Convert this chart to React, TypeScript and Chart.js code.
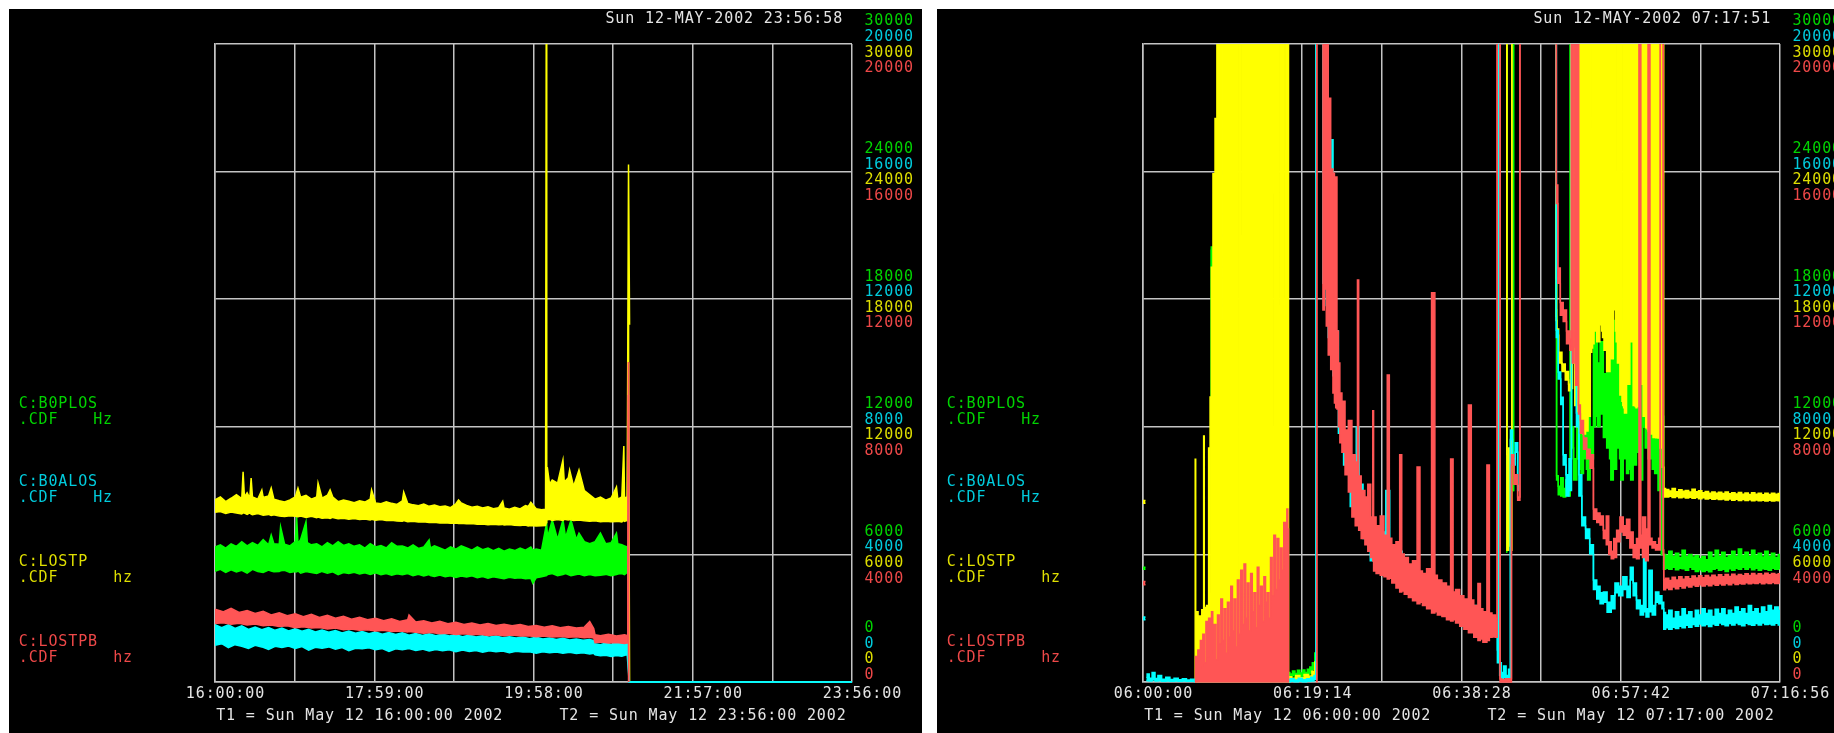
import { useEffect, useRef } from "react";
import { Chart, registerables } from "chart.js";

Chart.register(...registerables);

type Row = [number, number | null, number | null];

// ---------- axis / tick data ----------
const leftTickLabels = ["16:00:00", "17:59:00", "19:58:00", "21:57:00", "23:56:00"];
const leftTickValues = [0, 119, 238, 357, 476];
const leftGridValues = [0, 59.5, 119, 178.5, 238, 297.5, 357, 416.5, 476];
const rightTickLabels = ["06:00:00", "06:19:14", "06:38:28", "06:57:42", "07:16:56"];
const rightTickValues = [0, 19.2333, 38.4667, 57.7, 76.9333];
const rightGridValues = [0, 9.6167, 19.2333, 28.85, 38.4667, 48.0833, 57.7, 67.3167, 76.9333];

const greenAxis = [0, 6000, 12000, 18000, 24000, 30000];
const cyanAxis = [0, 4000, 8000, 12000, 16000, 20000];
const yellowAxis = [0, 6000, 12000, 18000, 24000, 30000];
const redAxis = [0, 4000, 8000, 12000, 16000, 20000];

const legendNames = ["C:B0PLOS", "C:B0ALOS", "C:LOSTP", "C:LOSTPB"];
const legendUnits = ["Hz", "Hz", "hz", "hz"];

// ---------- left panel series: [minutes since 16:00, upper, lower] ----------
const leftYellow: Row[] = [
  [0,8560,7980],[4,8700,8020],[8,8480,7930],[12,8640,7990],[16,8810,7950],[20,8620,7900],[21,9880,7960],[22,8700,7940],
  [24,8900,7880],[26,8650,7950],[27,9590,7900],[28,8700,7870],[32,8600,7920],[35,9030,7860],[36,8680,7840],[40,8750,7880],
  [42,9120,7830],[44,8600,7860],[48,8520,7800],[52,8470,7780],[56,8560,7820],[60,8700,7790],[62,9120,7770],[64,8690,7800],
  [68,8780,7740],[72,8600,7790],[76,8700,7730],[77,9360,7760],[80,8650,7700],[84,8780,7720],[86,9030,7690],[88,8700,7740],
  [92,8480,7680],[96,8560,7700],[100,8500,7650],[104,8430,7690],[108,8520,7640],[112,8460,7660],[116,8600,7620],[117,9030,7650],
  [120,8420,7610],[124,8380,7640],[128,8470,7590],[132,8400,7600],[136,8350,7570],[140,8520,7560],[141,8930,7590],[144,8400,7540],
  [148,8330,7560],[152,8290,7520],[156,8370,7540],[160,8260,7500],[164,8320,7510],[168,8240,7480],[172,8280,7490],[176,8200,7460],
  [180,8380,7480],[182,8560,7450],[184,8420,7470],[188,8300,7440],[192,8220,7450],[196,8260,7420],[200,8180,7430],[204,8240,7400],
  [208,8150,7420],[212,8200,7390],[215,8500,7410],[216,8180,7380],[220,8120,7400],[224,8220,7370],[228,8140,7360],[232,8300,7380],
  [234,8250,7340],[236,8450,7360],[240,8150,7330],[244,8100,7350],[247,8120,7360],[247.6,35000,7500],[247.9,9400,7650],[248.3,10110,7620],
  [250,9300,7650],[252,9500,7600],[256,9350,7640],[260,10440,7600],[261,9400,7650],[264,9600,7620],[265,9970,7640],[268,9200,7600],
  [272,9970,7620],[276,9000,7580],[280,8800,7560],[284,8600,7580],[288,8700,7540],[292,8550,7560],[296,8650,7540],[300,9170,7550],
  [301,8600,7560],[304,8700,7530],[305.5,11100,7600],[306,8650,7550],[308,8700,7600],[309,24330,15000],[309.8,16800,0],[310,null,null],
];
const leftGreen: Row[] = [
  [0,6350,5200],[4,6450,5300],[8,6300,5150],[12,6500,5280],[16,6380,5180],[20,6600,5250],[24,6400,5120],[28,6550,5300],
  [32,6420,5200],[36,6700,5150],[40,6450,5260],[42,6910,5220],[44,6500,5180],[48,6480,5200],[49,7300,5230],[52,6480,5250],
  [56,6400,5150],[60,6600,5200],[61,7770,5180],[62,6500,5220],[64,6700,5120],[68,7540,5200],[69,6550,5180],[72,6450,5150],
  [76,6500,5100],[80,6350,5200],[84,6550,5120],[88,6400,5180],[92,6600,5050],[96,6420,5150],[100,6500,5100],[104,6380,5160],
  [108,6450,5080],[112,6300,5140],[116,6500,5060],[120,6350,5130],[124,6420,5050],[128,6300,5100],[132,6550,5020],[136,6380,5090],
  [140,6400,5040],[144,6300,5100],[148,6450,5000],[152,6280,5060],[156,6350,4980],[160,6680,5050],[161,6300,5000],[164,6400,4960],
  [168,6300,5030],[172,6200,4950],[176,6350,5000],[180,6250,4920],[184,6400,4980],[188,6300,4940],[192,6200,4990],[196,6350,4900],
  [200,6220,4960],[204,6300,4880],[208,6180,4950],[212,6280,4900],[216,6150,4860],[220,6250,4920],[224,6180,4880],[228,6300,4900],
  [232,6200,4850],[236,6350,4880],[237.5,6200,4640],[240,6250,4900],[244,6200,4950],[247.8,7480,5000],[248.5,6800,5050],[252,7620,5100],
  [256,6700,5000],[260,7620,5050],[262,6800,5100],[266,7620,5000],[270,6700,5050],[272,7000,5080],[276,6600,5000],[280,6500,5050],
  [284,6600,5000],[288,7000,5020],[292,6500,5060],[296,6550,5000],[300,7000,5050],[301,6500,5080],[304,6450,5100],[306,6400,5050],
  [308,6350,5150],[309,6300,5200],[309.5,0,0],[309.6,null,null],
];
const leftRed: Row[] = [
  [0,2280,1830],[6,2200,1860],[12,2310,1810],[18,2180,1840],[24,2240,1790],[30,2150,1820],[36,2220,1760],[42,2100,1790],
  [48,2170,1740],[54,2080,1760],[60,2140,1700],[66,2050,1730],[72,2120,1690],[78,2020,1710],[84,2090,1660],[90,2000,1690],
  [96,2060,1640],[102,1970,1660],[108,2030,1620],[114,1950,1640],[120,2000,1600],[126,1920,1620],[132,1980,1580],[138,1900,1600],
  [144,1950,1570],[145,2100,1580],[150,1880,1560],[156,1920,1530],[162,1850,1550],[168,1900,1510],[174,1830,1530],[180,1870,1490],
  [186,1800,1510],[192,1850,1480],[198,1790,1500],[204,1830,1460],[210,1770,1480],[216,1810,1450],[222,1760,1470],[228,1800,1440],
  [234,1740,1450],[240,1770,1420],[246,1720,1440],[252,1760,1410],[258,1700,1430],[264,1740,1400],[270,1690,1420],[276,1720,1390],
  [280,1900,1400],[283,1680,1380],[284,1480,1230],[288,1450,1250],[294,1500,1220],[300,1440,1240],[306,1480,1210],[308.5,1450,1230],
  [308.8,10030,9000],[309.1,0,0],[309.2,null,null],
];
const leftCyan: Row[] = [
  [0,1800,1150],[5,1700,1200],[10,1790,1080],[15,1680,1170],[20,1760,1120],[25,1650,1050],[30,1720,1150],[35,1640,1100],
  [40,1710,1020],[45,1620,1120],[50,1690,1080],[55,1600,1130],[60,1670,1050],[65,1590,1110],[70,1650,1000],[75,1570,1090],
  [80,1630,1060],[85,1560,1100],[90,1610,1030],[95,1540,1080],[100,1600,980],[105,1530,1060],[110,1580,1040],[115,1510,1070],
  [120,1570,1010],[125,1500,1050],[130,1550,960],[135,1490,1040],[140,1540,1010],[145,1470,1050],[150,1520,990],[155,1460,1030],
  [160,1510,970],[165,1450,1020],[170,1500,980],[175,1440,1010],[180,1480,950],[185,1420,1000],[190,1470,960],[195,1410,990],
  [200,1450,930],[205,1400,980],[210,1440,950],[215,1390,970],[220,1420,920],[225,1380,960],[230,1410,940],[235,1360,950],
  [240,1400,900],[245,1350,950],[250,1380,920],[255,1330,940],[260,1370,900],[265,1320,930],[270,1350,890],[275,1310,920],
  [280,1330,880],[283,1300,900],[284,1200,850],[288,1170,820],[292,1220,840],[296,1180,800],[300,1230,830],[304,1190,810],
  [308,1240,860],[309.5,0,0],[476,0,0],
];

// ---------- right panel series: [minutes since 06:00, upper, lower] ----------
const rightYellow: Row[] = [
  [0,8530,8400],[0.3,8530,8400],[0.35,null,null],
  [6.28,0,0],[6.33,10480,0],[6.4,3300,0],[6.9,3100,0],[7.3,3400,0],[7.35,11570,0],[7.45,3500,0],[7.9,3600,0],[7.95,11000,0],
  [8.05,4200,0],[8.15,13400,0],[8.35,19500,0],[8.55,23900,0],[8.85,26500,0],
  [9.0,35000,0],[9.38,35000,0],[9.5,17000,0],[9.62,35000,0],[10.1,35000,0],[10.2,22000,0],[10.3,35000,0],
  [10.4,35000,0],[10.5,26000,0],[10.6,35000,0],[10.88,35000,0],[11.0,10100,0],[11.12,35000,0],
  [11.53,35000,0],[11.65,4230,0],[11.77,35000,0],[11.9,35000,0],[12.0,21000,0],[12.1,35000,0],
  [12.38,35000,0],[12.5,14000,0],[12.62,35000,0],[13.18,35000,0],[13.3,15500,0],[13.42,35000,0],
  [13.5,35000,0],[13.6,24000,0],[13.7,35000,0],[13.88,35000,0],[14.0,19500,0],[14.12,35000,0],
  [14.48,35000,0],[14.6,14800,0],[14.72,35000,0],[15.08,35000,0],[15.2,20000,0],[15.32,35000,0],
  [15.5,35000,0],[15.6,23000,0],[15.7,35000,0],[15.75,35000,0],[15.85,12000,0],[15.95,35000,0],
  [16.08,35000,0],[16.2,16300,0],[16.32,35000,0],[16.48,35000,0],[16.6,17700,0],[16.72,35000,0],
  [16.9,35000,0],[17.0,18000,0],[17.1,35000,0],[17.2,35000,0],[17.3,25000,0],[17.4,35000,0],
  [17.55,35000,0],[17.6,200,0],
  [17.7,250,100],[18.2,180,60],[18.7,300,120],[19.2,200,80],[19.7,350,150],[20.2,280,120],[20.6,500,250],[20.9,940,600],[20.95,null,null],
  [43.9,35000,35000],[44.0,10700,6200],[44.3,11000,6400],[44.5,10500,6200],[44.6,35000,35000],[44.65,null,null],
  [49.84,35000,35000],[49.95,19000,17000],[50.0,16600,16300],[50.4,15500,15000],[50.8,14950,14600],[51.2,14600,14200],[51.6,14000,13700],
  [51.75,35000,13800],[52.0,35000,15000],[52.3,35000,13000],[52.6,35000,12000],[52.8,35000,11800],[52.9,22000,11700],[53.0,35000,11700],
  [53.3,35000,11660],[53.6,35000,11800],[53.9,35000,12500],[54.15,35000,15500],[54.25,26000,15700],[54.35,35000,15900],[54.6,35000,16500],
  [55.0,35000,16000],[55.35,35000,16800],[55.45,19000,16500],[55.55,35000,16200],[55.8,35000,15600],[56.2,35000,14600],[56.6,35000,15200],
  [57.0,35000,17500],[57.1,24000,16500],[57.2,35000,16000],[57.4,35000,15000],[57.8,35000,13500],[57.9,35000,13200],[58.0,17000,13000],
  [58.1,35000,12900],[58.2,35000,12650],[58.6,35000,14000],[59.0,35000,16000],[59.4,35000,13000],[59.5,35000,12950],[59.6,21000,12900],
  [59.7,35000,12950],[59.8,35000,12950],[60.2,35000,14000],[60.6,35000,12500],[60.85,35000,11950],[60.95,25000,11900],[61.05,35000,11800],
  [61.4,35000,11660],[61.8,35000,11500],[62.05,35000,11490],[62.15,18000,11480],[62.25,35000,11470],[62.6,35000,11000],[62.85,35000,10100],
  [62.93,9100,8700],
  [63.3,9050,8700],[63.7,8980,8740],[64.1,9100,8680],[64.5,8950,8720],[64.9,9040,8660],[65.3,8970,8700],[65.7,9000,8650],[66.1,8930,8690],
  [66.5,9060,8640],[66.9,8950,8680],[67.3,8990,8620],[67.7,8900,8660],[68.1,8960,8600],[68.5,8880,8640],[68.9,8940,8590],[69.3,8870,8620],
  [69.7,8920,8580],[70.1,8860,8610],[70.5,8930,8560],[70.9,8850,8600],[71.3,8900,8550],[71.7,8840,8590],[72.1,8910,8540],[72.5,8830,8580],
  [72.9,8890,8530],[73.3,8820,8570],[73.7,8900,8520],[74.1,8830,8560],[74.5,8880,8520],[74.9,8810,8550],[75.3,8870,8510],[75.7,8820,8550],
  [76.1,8880,8510],[76.5,8830,8540],[76.93,8860,8520],
];
const rightGreen: Row[] = [
  [0,5400,5300],[0.3,5400,5300],[0.35,null,null],
  [8.2,6800,6700],[8.3,20450,20300],[8.38,7000,6900],[8.45,null,null],
  [11.6,15560,15400],[11.7,4230,4100],[11.75,null,null],
  [15.2,35000,35000],[15.3,17500,17300],[15.35,null,null],
  [17.6,450,300],[17.9,380,250],[18.2,520,300],[18.5,400,220],[18.8,550,330],[19.1,420,260],[19.4,560,300],[19.7,450,280],
  [20.0,600,350],[20.3,700,420],[20.6,900,600],[20.9,1360,1000],[20.95,null,null],
  [43.9,35000,35000],[44.0,6200,6100],[44.05,null,null],
  [44.7,9000,9000],[44.8,35000,35000],[44.85,null,null],
  [49.8,35000,35000],[49.9,17500,17200],[50.0,9700,9500],[50.3,9200,8800],[50.6,9600,8750],[50.9,9100,8700],[51.2,9500,8900],
  [51.5,9000,8750],[51.7,35000,35000],[51.8,12000,11000],[52.2,10500,9500],[52.6,13000,10500],[52.7,13000,12800],[52.8,13500,10000],
  [53.0,15000,9800],[53.4,16000,10500],[53.5,16000,15500],[53.6,15500,10000],[53.8,14000,9500],[54.2,12000,10500],[54.6,16500,12000],
  [54.7,16500,16000],[54.8,16000,12500],[55.0,15000,12000],[55.4,16000,12600],[55.8,14500,11500],[56.2,17000,11000],[56.3,17000,16500],
  [56.4,17500,10500],[56.6,18850,9500],[57.0,17000,10000],[57.4,18000,11000],[57.5,18000,17500],[57.6,17500,10500],[57.8,16000,9500],
  [58.2,18500,10500],[58.6,17500,9800],[58.7,17500,17000],[58.8,17000,10000],[59.0,18000,9500],[59.4,16500,10200],[59.8,18800,10800],
  [59.9,18800,18000],[60.0,18000,10500],[60.2,17000,9500],[60.5,35000,12000],[60.8,16000,11000],[61.2,15000,10500],[61.3,15000,14500],
  [61.4,14500,10500],[61.6,14000,10000],[62.0,13500,9800],[62.4,13000,9000],[62.8,12500,6000],[62.93,6000,5300],
  [63.3,5950,5350],[63.7,6150,5300],[64.1,5900,5400],[64.5,6050,5280],[64.9,5850,5350],[65.3,6200,5320],[65.7,5900,5250],[66.1,6000,5400],
  [66.5,5880,5300],[66.9,5950,5200],[67.3,5800,5280],[67.7,5900,5200],[68.1,5750,5250],[68.5,6100,5180],[68.9,5850,5300],[69.3,6200,5350],
  [69.7,5900,5260],[70.1,6100,5300],[70.5,5850,5200],[70.9,5950,5320],[71.3,6150,5250],[71.7,5900,5350],[72.1,6250,5300],[72.5,5950,5400],
  [72.9,6100,5300],[73.3,5900,5380],[73.7,6200,5280],[74.1,5950,5350],[74.5,6050,5250],[74.9,5880,5330],[75.3,6150,5300],[75.7,5900,5250],
  [76.1,6050,5350],[76.5,5850,5300],[76.93,6000,5320],
];
const rightCyan: Row[] = [
  [0,2040,1950],[0.3,2040,1950],[0.35,null,null],[0.4,150,50],[0.6,250,40],[0.9,120,30],[1.3,300,60],[1.6,110,30],[2.0,200,40],[2.5,90,20],
  [3.0,150,30],[3.5,80,20],[4.0,120,30],[4.5,70,20],[5.0,100,30],[5.5,60,20],[6.0,90,20],[6.5,60,10],[10,70,10],[14,60,10],
  [17.6,80,10],[18.0,100,20],[18.5,60,10],[19.0,120,20],[19.5,70,10],[20.0,100,20],[20.5,150,30],[20.8,200,80],
  [21.0,30000,30000],[21.7,30000,30000],[21.76,30000,12500],[22.03,30000,13000],[22.24,30000,11800],[22.5,17000,10800],[22.84,15000,10300],
  [22.9,17000,10300],[23.0,13000,9600],[23.35,11000,9000],[23.85,8700,7800],[24.6,7600,6800],[25.46,6700,5500],[26.05,8000,5100],
  [26.15,6200,5000],[27.0,5500,4500],[27.9,4900,3800],[28.9,4700,3600],[29.75,6000,3450],[29.85,4300,3450],[30.8,4100,3150],
  [31.8,3650,2950],[32.8,3500,2750],[33.5,3300,2650],[34.5,3300,2500],[35.3,3150,2350],[36.4,2900,2200],[37.5,2650,2100],
  [38.5,2500,1900],[39.7,2400,1700],[40.8,2150,1500],[41.9,2000,1500],[42.75,1900,1500],[42.85,1000,600],[43.0,30000,30000],
  [43.15,600,200],[43.4,300,100],[43.7,500,150],[44.0,200,50],[44.3,400,100],[44.45,7900,7600],[44.8,7000,6800],[45.1,7500,7200],
  [45.4,6150,6000],[45.45,null,null],
  [49.84,30000,30000],[50.0,11030,10800],[50.3,9720,9500],[50.6,8930,8700],[50.9,7120,6800],[51.3,6500,5830],[51.6,7000,6000],
  [51.9,30000,30000],[52.2,30000,30000],[52.5,8430,8000],[52.8,6500,5830],[53.2,5170,4900],[53.7,4800,4500],[54.2,4300,4010],
  [54.6,3200,2900],[55.0,3000,2600],[55.4,2800,2450],[55.8,2820,2500],[56.3,2500,2190],[56.8,2700,2300],[57.2,3100,2800],
  [57.7,3000,2700],[58.2,3300,2900],[58.7,3000,2650],[59.0,3600,3200],[59.4,3100,2700],[59.8,2570,2300],[60.3,2400,2100],
  [60.6,4000,2200],[60.9,2300,2040],[61.3,3500,2200],[61.7,2400,2100],[62.1,2820,2500],[62.5,2700,2450],[62.85,2500,2300],
  [62.93,2176,1655],[63.3,2100,1700],[63.7,2250,1650],[64.1,2000,1720],[64.5,2200,1680],[64.9,2050,1750],[65.3,2300,1700],
  [65.7,2100,1780],[66.1,2200,1720],[66.5,2000,1800],[66.9,2250,1750],[67.3,2100,1820],[67.7,2300,1760],[68.1,2150,1800],
  [68.5,2250,1740],[68.9,2050,1820],[69.3,2280,1780],[69.7,2150,1850],[70.1,2300,1800],[70.5,2100,1760],[70.9,2250,1830],
  [71.3,2150,1790],[71.7,2350,1850],[72.1,2200,1800],[72.5,2300,1760],[72.9,2150,1840],[73.3,2400,1800],[73.7,2200,1780],
  [74.1,2300,1830],[74.5,2150,1790],[74.9,2350,1850],[75.3,2200,1800],[75.7,2400,1820],[76.1,2250,1790],[76.5,2350,1840],
  [76.93,2241,1787],
];
const rightRed: Row[] = [
  [0,3150,3050],[0.3,3150,3050],[0.35,null,null],
  [6.28,0,0],[6.4,800,0],[6.55,300,0],[6.7,1000,0],[6.85,400,0],[7.0,1300,0],[7.15,500,0],[7.3,1500,0],[7.5,600,0],[7.7,1900,0],
  [7.85,800,0],[8.0,2000,0],[8.2,900,0],[8.35,2200,0],[8.5,1000,0],[8.7,1800,0],[8.9,700,0],[9.1,2100,0],[9.3,1200,0],[9.5,2600,0],
  [9.7,1300,0],[9.9,2300,0],[10.1,900,0],[10.3,2500,0],[10.5,1400,0],[10.7,3000,0],[10.9,1600,0],[11.1,2600,0],[11.3,1100,0],
  [11.5,3200,0],[11.7,1500,0],[11.9,3500,0],[12.1,1800,0],[12.3,3700,0],[12.5,2000,0],[12.7,3100,0],[12.9,1600,0],[13.1,3400,0],
  [13.3,2200,0],[13.5,2800,0],[13.7,1700,0],[13.9,3600,0],[14.1,2400,0],[14.3,3000,0],[14.5,1900,0],[14.7,3300,0],[14.9,2500,0],
  [15.1,2800,0],[15.3,2000,0],[15.5,3900,0],[15.7,2700,0],[15.9,4600,0],[16.1,2900,0],[16.3,4500,0],[16.5,3200,0],[16.7,4200,0],
  [16.9,3500,0],[17.1,5000,0],[17.3,4000,0],[17.45,5420,0],[17.55,4800,0],[17.6,0,0],[17.65,null,null],
  [20.95,0,0],[21.03,30000,30000],[21.7,30000,30000],[21.76,30000,11660],[22.03,30000,12320],[22.24,30000,11160],[22.5,18300,10250],
  [22.84,16080,9800],[23.04,15950,9060],[23.2,11290,8750],[23.35,15830,8600],[23.5,11000,8560],[23.7,10000,8000],[23.85,9060,7500],
  [24.2,8800,7200],[24.6,7900,6500],[25.0,8200,5960],[25.46,7120,5170],[25.8,6900,4900],[26.0,12600,5000],[26.1,6460,4760],
  [26.6,6000,4500],[27.0,5800,4300],[27.3,6200,4100],[27.7,5170,3900],[27.8,8500,3800],[27.9,5170,3480],[28.4,4900,3400],
  [28.9,5200,3350],[29.3,4600,3300],[29.7,9620,3230],[29.8,4510,3250],[30.3,4300,3100],[30.8,4400,2950],[31.2,7120,2820],
  [31.3,4010,2850],[31.8,3900,2750],[32.3,3700,2650],[32.8,3800,2550],[33.4,6740,2450],[33.5,3480,2500],[34.0,3400,2400],
  [34.5,3550,2300],[35.2,12200,2160],[35.3,3350,2200],[35.8,3200,2100],[36.4,3100,2050],[36.9,3000,1950],[37.4,6990,1910],
  [37.5,2820,1950],[38.0,2900,1850],[38.5,2700,1750],[39.0,2600,1650],[39.6,8680,1540],[39.7,2570,1540],[40.2,2400,1400],
  [40.7,3085,1300],[40.8,2300,1350],[41.3,2200,1250],[41.77,6800,1300],[41.9,2160,1400],[42.4,2100,1410],[42.75,2000,1400],
  [42.8,30000,30000],[43.1,30000,30000],[43.15,100,0],[43.5,80,0],[44.0,100,0],[44.4,100,0],[44.6,7120,6800],[45.0,6500,6200],
  [45.5,5800,5700],[45.55,30000,30000],[45.7,30000,30000],[45.75,null,null],
  [49.84,30000,30000],[50.0,15580,15000],[50.2,12980,12500],[50.6,11900,11500],[50.9,11660,11300],[51.4,11000,10600],[51.7,10750,10400],
  [51.8,30000,30000],[51.9,10500,10000],[52.2,30000,30000],[52.3,9800,9300],[52.55,30000,30000],[52.65,8680,8400],[53.0,8200,7800],
  [53.4,7650,7300],[53.8,7300,7000],[54.2,7120,6700],[54.6,5420,5100],[55.0,5300,5000],[55.4,5200,4920],[55.8,4760,4500],
  [56.1,5200,4300],[56.4,4400,4000],[56.7,4100,3860],[57.0,4500,3900],[57.4,4760,4400],[57.8,5170,4700],[58.2,4900,4600],
  [58.6,5100,4510],[59.0,4700,4200],[59.4,4300,3900],[59.8,4500,3860],[60.05,30000,30000],[60.15,4600,4200],[60.5,5170,3900],
  [60.9,4800,3800],[61.15,30000,30000],[61.25,4510,4300],[61.7,4400,4200],[62.1,4300,4140],[62.45,4510,4140],[62.5,30000,30000],
  [62.8,30000,30000],[62.85,4140,4000],[62.93,3216,2890],
  [63.3,3250,2950],[63.7,3180,2900],[64.1,3280,2980],[64.5,3200,2920],[64.9,3300,3000],[65.3,3220,2950],[65.7,3300,3020],[66.1,3240,2980],
  [66.5,3320,3040],[66.9,3260,3000],[67.3,3330,3050],[67.7,3270,3010],[68.1,3340,3060],[68.5,3280,3020],[68.9,3350,3070],[69.3,3290,3030],
  [69.7,3360,3080],[70.1,3300,3040],[70.5,3370,3090],[70.9,3310,3050],[71.3,3380,3100],[71.7,3320,3060],[72.1,3370,3090],[72.5,3330,3070],
  [72.9,3390,3110],[73.3,3340,3080],[73.7,3400,3100],[74.1,3350,3090],[74.5,3390,3120],[74.9,3350,3080],[75.3,3410,3110],[75.7,3360,3090],
  [76.1,3400,3120],[76.5,3370,3090],[76.93,3390,3100],
];

// ---------- styling ----------
const SERIES = { green: "#00ff00", cyan: "#00ffff", yellow: "#ffff00", red: "#ff5555" };
const LABEL = { green: "#00d400", cyan: "#00ccdd", yellow: "#dede00", red: "#ee4848" };
const WHITE = "#e4e4e4";
const GRID = "#c4c4c4";
const CELL = 9.9;
const FONT = '15px "DejaVu Sans Mono", "Liberation Mono", monospace';

function band(rows: Row[], axis: string, color: string, order: number, stepped: boolean) {
  const hi = rows.map((r) => ({ x: r[0], y: r[1] }));
  const lo = rows.map((r) => ({ x: r[0], y: r[2] }));
  const common: any = {
    yAxisID: axis,
    borderColor: color,
    backgroundColor: color,
    borderWidth: 1.5,
    pointRadius: 0,
    pointHoverRadius: 0,
    tension: 0,
    stepped: stepped ? "middle" : false,
    spanGaps: false,
    order,
    clip: { left: 0, top: 0, right: 0, bottom: 3 },
  };
  return [
    { ...common, data: hi, fill: false },
    { ...common, data: lo, fill: "-1" },
  ];
}

function mono(ctx: CanvasRenderingContext2D, text: string, x: number, yCenter: number, color: string) {
  ctx.fillStyle = color;
  for (let i = 0; i < text.length; i++) {
    const ch = text[i];
    if (ch === " ") continue;
    ctx.fillText(ch, x + (i + 0.5) * CELL, yCenter + 5.4);
  }
}

type PanelCfg = {
  date: string;
  t1: string;
  t2: string;
  xMax: number;
  stepped: boolean;
  gridValues: number[];
  tickValues: number[];
  tickLabels: string[];
  green: Row[];
  cyan: Row[];
  yellow: Row[];
  red: Row[];
};

function Panel({ left, cfg }: { left: number; cfg: PanelCfg }) {
  const ref = useRef<HTMLCanvasElement>(null);
  useEffect(() => {
    const textPlugin = {
      id: "textPlugin",
      afterDraw(chart: any) {
        const ctx: CanvasRenderingContext2D = chart.ctx;
        const xs = chart.scales.x;
        const ys = chart.scales.yG;
        ctx.save();
        ctx.font = FONT;
        ctx.textAlign = "center";
        ctx.textBaseline = "alphabetic";
        mono(ctx, cfg.date, 596, 9, WHITE);
        const offs = [-24, -8.4, 7.2, 22.8];
        const cols = [LABEL.green, LABEL.cyan, LABEL.yellow, LABEL.red];
        for (let k = 0; k < greenAxis.length; k++) {
          const y0 = ys.getPixelForValue(greenAxis[k]);
          const shift = k === 0 ? -31.5 : 0;
          const vals = [greenAxis[k], cyanAxis[k], yellowAxis[k], redAxis[k]];
          for (let j = 0; j < 4; j++) {
            mono(ctx, String(vals[j]), 855, y0 + offs[j] + shift, cols[j]);
          }
        }
        const ly = [393.5, 472, 552, 632];
        for (let i = 0; i < legendNames.length; i++) {
          mono(ctx, legendNames[i], 9.3, ly[i], cols[i]);
          mono(ctx, ".CDF", 9.3, ly[i] + 15.8, cols[i]);
          const ux = legendUnits[i] === "Hz" ? 83.7 : 103.7;
          mono(ctx, legendUnits[i], ux, ly[i] + 15.8, cols[i]);
        }
        for (let i = 0; i < cfg.tickValues.length; i++) {
          const px = xs.getPixelForValue(cfg.tickValues[i]);
          const s = cfg.tickLabels[i];
          mono(ctx, s, px + 10 - (s.length * CELL) / 2, 683.3, WHITE);
        }
        mono(ctx, cfg.t1, 206.7, 706, WHITE);
        mono(ctx, cfg.t2, 550, 706, WHITE);
        ctx.restore();
      },
    };

    const datasets = [
      ...band(cfg.red, "yR", SERIES.red, 0, cfg.stepped),
      ...band(cfg.cyan, "yC", SERIES.cyan, 1, cfg.stepped),
      ...band(cfg.yellow, "yY", SERIES.yellow, 2, cfg.stepped),
      ...band(cfg.green, "yG", SERIES.green, 3, cfg.stepped),
    ];

    const gridOpts = { color: GRID, lineWidth: 1.5, drawTicks: false };
    const chart = new Chart(ref.current as HTMLCanvasElement, {
      type: "line",
      data: { datasets } as any,
      plugins: [textPlugin],
      options: {
        animation: false,
        responsive: false,
        maintainAspectRatio: false,
        devicePixelRatio: 1,
        events: [],
        layout: { padding: { left: 206, right: 70, top: 35, bottom: 51 } },
        plugins: { legend: { display: false }, tooltip: { enabled: false }, title: { display: false } },
        scales: {
          x: {
            type: "linear",
            min: 0,
            max: cfg.xMax,
            afterBuildTicks: (s: any) => {
              s.ticks = cfg.gridValues.map((v) => ({ value: v }));
            },
            ticks: { display: false },
            grid: gridOpts,
            border: { color: GRID, width: 1.5 },
          },
          yG: {
            type: "linear",
            position: "left",
            min: 0,
            max: 30000,
            afterBuildTicks: (s: any) => {
              s.ticks = greenAxis.map((v) => ({ value: v }));
            },
            ticks: { display: false },
            grid: gridOpts,
            border: { color: GRID, width: 1.5 },
          },
          yC: { type: "linear", min: 0, max: 20000, display: false },
          yY: { type: "linear", min: 0, max: 30000, display: false },
          yR: { type: "linear", min: 0, max: 20000, display: false },
        },
      } as any,
    });
    return () => chart.destroy();
  }, []);
  return (
    <div style={{ position: "absolute", left, top: 9, width: 913, height: 724, background: "#000", overflow: "hidden" }}>
      <canvas ref={ref} width={913} height={724} style={{ display: "block", width: 913, height: 724 }} />
    </div>
  );
}

const leftCfg: PanelCfg = {
  date: "Sun 12-MAY-2002 23:56:58",
  t1: "T1 = Sun May 12 16:00:00 2002",
  t2: "T2 = Sun May 12 23:56:00 2002",
  xMax: 476,
  stepped: false,
  gridValues: leftGridValues,
  tickValues: leftTickValues,
  tickLabels: leftTickLabels,
  green: leftGreen,
  cyan: leftCyan,
  yellow: leftYellow,
  red: leftRed,
};

const rightCfg: PanelCfg = {
  date: "Sun 12-MAY-2002 07:17:51",
  t1: "T1 = Sun May 12 06:00:00 2002",
  t2: "T2 = Sun May 12 07:17:00 2002",
  xMax: 76.9333,
  stepped: true,
  gridValues: rightGridValues,
  tickValues: rightTickValues,
  tickLabels: rightTickLabels,
  green: rightGreen,
  cyan: rightCyan,
  yellow: rightYellow,
  red: rightRed,
};

export default function App() {
  return (
    <div style={{ position: "fixed", left: 0, top: 0, width: 1834, height: 733, background: "#fff", overflow: "hidden" }}>
      <Panel left={9} cfg={leftCfg} />
      <Panel left={937} cfg={rightCfg} />
    </div>
  );
}
